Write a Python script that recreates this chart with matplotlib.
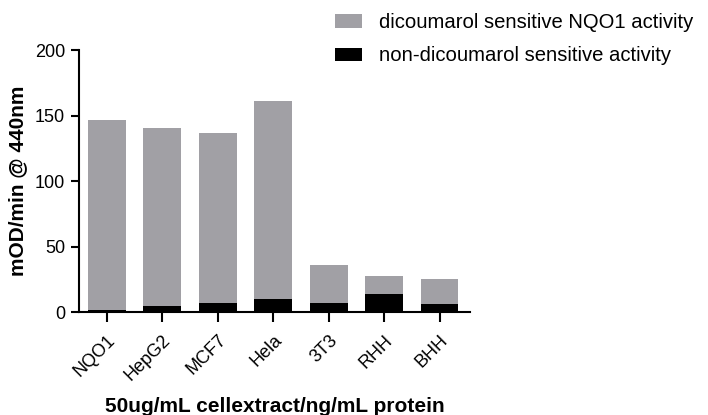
import matplotlib
matplotlib.use("Agg")
import matplotlib.pyplot as plt
import numpy as np

plt.rcParams['font.family'] = ['Liberation Sans', 'DejaVu Sans']

cell_lines = ["NQO1", "HepG2", "MCF7", "Hela", "3T3", "RHH", "BHH"]
non_dicoumarol = [1.8, 4.8, 7.4, 9.9, 7.4, 13.7, 6.3]
dicoumarol_sensitive = [144.5, 135.6, 129.2, 151.4, 28.7, 14.0, 18.9]
y_ticks = [0, 50, 100, 150, 200]

fig = plt.figure(figsize=(7.08, 4.15), dpi=100)
ax = fig.add_axes([0.1116, 0.2475, 0.5524, 0.632])

x = np.arange(len(cell_lines))
width = 0.68
b1 = ax.bar(x, non_dicoumarol, width, color="black",
            label="non-dicoumarol sensitive activity")
b2 = ax.bar(x, dicoumarol_sensitive, width, bottom=non_dicoumarol,
            color="#a1a0a5", label="dicoumarol sensitive NQO1 activity")

ax.set_xlim(-0.5, 6.55)
ax.set_ylim(0, 200)
ax.set_yticks(y_ticks)
ax.set_xticks(x)
ax.set_xticklabels(cell_lines, rotation=45, ha="right", rotation_mode="anchor",
                   fontsize=13)
ax.tick_params(axis="y", labelsize=13, width=1.5, length=6, pad=4)
ax.tick_params(axis="x", width=1.5, length=7, pad=7)
for s in ["top", "right"]:
    ax.spines[s].set_visible(False)
for s in ["left", "bottom"]:
    ax.spines[s].set_linewidth(1.5)

ax.set_ylabel("mOD/min @ 440nm", fontsize=15, fontweight="bold", va="center")
ax.yaxis.set_label_coords(-0.157, 0.5)
ax.set_xlabel("50ug/mL cellextract/ng/mL protein", fontsize=15,
              fontweight="bold", va="center")
ax.xaxis.set_label_coords(0.5, -0.358)

fig.legend([b2, b1], ["dicoumarol sensitive NQO1 activity",
                      "non-dicoumarol sensitive activity"],
           loc="upper left", bbox_to_anchor=(0.473, 0.969), frameon=False,
           borderpad=0, borderaxespad=0,
           fontsize=14.6, handlelength=1.35, handleheight=0.65,
           handletextpad=0.85, labelspacing=0.72)

fig.savefig("out.png", dpi=100)
